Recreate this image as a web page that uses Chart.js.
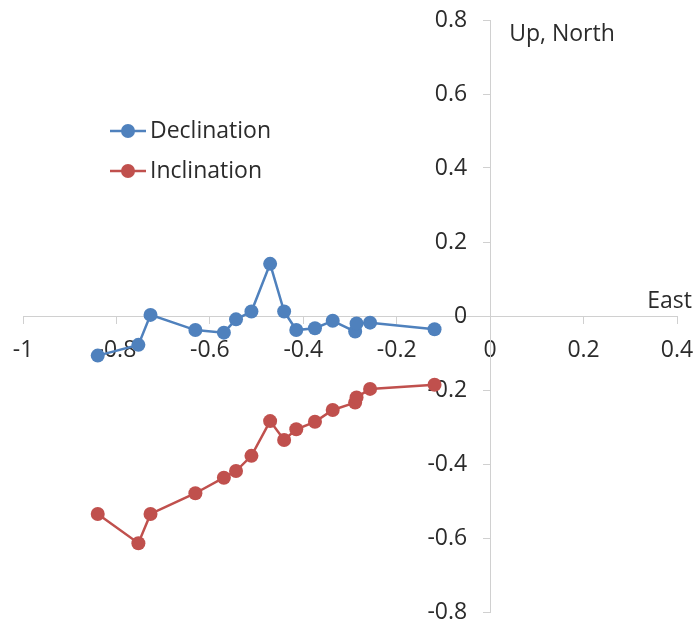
<!DOCTYPE html>
<html>
<head>
<meta charset="utf-8">
<script src="https://cdn.jsdelivr.net/npm/chart.js@4/dist/chart.umd.min.js"></script>
<style>
  html, body { margin: 0; padding: 0; background: #fff; }
  #wrap { width: 698px; height: 626px; }
</style>
</head>
<body>
<div id="wrap"><canvas id="chart" width="698" height="626"></canvas></div>
<script>
// shared East component for each demagnetisation step
const east = [-0.840, -0.753, -0.727, -0.631, -0.570, -0.544, -0.511, -0.471,
    -0.441, -0.415, -0.375, -0.337, -0.289, -0.286, -0.257, -0.119];
const declination = [-0.107, -0.078, 0.003, -0.038, -0.045, -0.009, 0.012, 0.141,
    0.012, -0.038, -0.033, -0.013, -0.042, -0.020, -0.018, -0.036];
const inclination = [-0.535, -0.614, -0.535, -0.479, -0.437, -0.419, -0.378, -0.284,
    -0.335, -0.306, -0.286, -0.254, -0.234, -0.220, -0.197, -0.186];
const seriesNames = ['Declination', 'Inclination'];
const xTicks = [-1, -0.8, -0.6, -0.4, -0.2, 0, 0.2, 0.4];
const yTicks = [-0.8, -0.6, -0.4, -0.2, 0, 0.2, 0.4, 0.6, 0.8];

const FONT = '"Open Sans", sans-serif';
const FSIZE = 23;
const TEXT = '#2b2b2b';
const AXIS = '#d0d0d0';

function toPoints(ys) {
    return east.map((x, i) => ({ x: x, y: ys[i] }));
}

function series(label, ys, color) {
    return {
        label: label,
        data: toPoints(ys),
        showLine: true,
        borderColor: color,
        backgroundColor: color,
        borderWidth: 2.5,
        pointRadius: 7,
        pointBorderWidth: 0,
        pointBackgroundColor: color,
        tension: 0
    };
}

function noScalePadding(s) {
    s.paddingLeft = 0;
    s.paddingRight = 0;
    s.paddingTop = 0;
    s.paddingBottom = 0;
}

// y labels on a crossing axis sit on the line itself, push them left of it
const yLabelShift = {
    id: 'yLabelShift',
    beforeDraw(chart) {
        chart.scales.y.getLabelItems().forEach(it => {
            it.options.translation[0] -= 23;
        });
    }
};

// legend and axis names drawn inside the plot like the Excel original
const overlay = {
    id: 'overlay',
    afterDraw(chart) {
        const ctx = chart.ctx;
        ctx.save();
        ctx.font = FSIZE + 'px ' + FONT;
        ctx.fillStyle = TEXT;
        ctx.textBaseline = 'middle';
        chart.data.datasets.forEach((ds, i) => {
            const y = 131 + i * 40;
            ctx.strokeStyle = ds.borderColor;
            ctx.lineWidth = 2.5;
            ctx.beginPath();
            ctx.moveTo(110, y);
            ctx.lineTo(146, y);
            ctx.stroke();
            ctx.fillStyle = ds.borderColor;
            ctx.beginPath();
            ctx.arc(128, y, 7, 0, Math.PI * 2);
            ctx.fill();
            ctx.fillStyle = TEXT;
            ctx.textAlign = 'left';
            ctx.fillText(ds.label, 150, y);
        });
        const xs = chart.scales.x, ys = chart.scales.y;
        ctx.textBaseline = 'alphabetic';
        ctx.textAlign = 'right';
        ctx.fillText('East', xs.right + 15, ys.getPixelForValue(0) - 8);
        ctx.textAlign = 'left';
        ctx.fillText('Up, North', xs.getPixelForValue(0) + 19, 41);
        ctx.restore();
    }
};

new Chart(document.getElementById('chart'), {
    type: 'scatter',
    data: {
        datasets: [
            series(seriesNames[0], declination, '#4F81BD'),
            series(seriesNames[1], inclination, '#C0504D')
        ]
    },
    options: {
        responsive: false,
        animation: false,
        layout: { padding: { left: 23, right: 21, top: 20, bottom: 14 } },
        plugins: {
            legend: { display: false },
            tooltip: { enabled: false }
        },
        scales: {
            x: {
                type: 'linear',
                position: { y: 0 },
                min: xTicks[0],
                max: xTicks[xTicks.length - 1],
                afterBuildTicks: (s) => { s.ticks = xTicks.map(v => ({ value: v })); },
                afterFit: noScalePadding,
                border: { color: AXIS, width: 1 },
                grid: { drawOnChartArea: false, color: AXIS, tickLength: 7 },
                ticks: {
                    color: TEXT,
                    font: { family: FONT, size: FSIZE },
                    padding: 14,
                    maxRotation: 0,
                    callback: (v) => String(Math.round(v * 10) / 10)
                }
            },
            y: {
                type: 'linear',
                position: { x: 0 },
                min: yTicks[0],
                max: yTicks[yTicks.length - 1],
                afterBuildTicks: (s) => { s.ticks = yTicks.map(v => ({ value: v })); },
                afterFit: noScalePadding,
                border: { color: AXIS, width: 1 },
                grid: { drawOnChartArea: false, color: AXIS, tickLength: 7 },
                ticks: {
                    color: TEXT,
                    font: { family: FONT, size: FSIZE },
                    callback: (v) => String(Math.round(v * 10) / 10)
                }
            }
        }
    },
    plugins: [yLabelShift, overlay]
});
</script>
</body>
</html>
